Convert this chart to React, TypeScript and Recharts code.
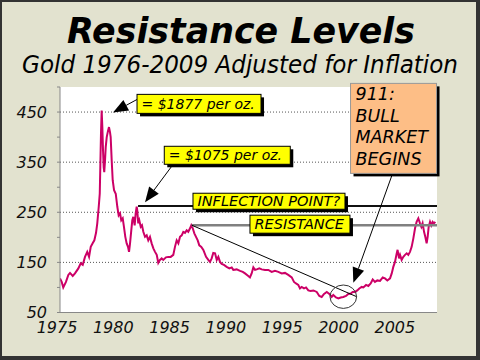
import React from 'react';
import { LineChart, Line, XAxis, YAxis, CartesianGrid, ReferenceLine, ReferenceDot } from 'recharts';

// ---- data (x is the chart's year axis) ----
const years = [
  1975.0, 1975.15, 1975.29, 1975.53, 1975.74, 1975.89, 1976.13, 1976.33, 1976.63, 1976.84,
  1977.02, 1977.22, 1977.42, 1977.58, 1977.73, 1977.9, 1978.05, 1978.2, 1978.31, 1978.44,
  1978.53, 1978.58, 1978.64, 1978.7, 1978.76, 1978.82, 1978.88, 1978.93, 1979.0, 1979.06,
  1979.15, 1979.24, 1979.35, 1979.44, 1979.5, 1979.59, 1979.68, 1979.8, 1979.95, 1980.09,
  1980.21, 1980.33, 1980.44, 1980.57, 1980.68, 1980.8, 1980.92, 1981.04, 1981.13, 1981.22,
  1981.33, 1981.42, 1981.51, 1981.63, 1981.72, 1981.81, 1981.86, 1981.95, 1982.04, 1982.17,
  1982.28, 1982.4, 1982.55, 1982.7, 1982.84, 1982.99, 1983.14, 1983.29, 1983.44, 1983.59,
  1983.73, 1983.88, 1984.03, 1984.17, 1984.41, 1984.62, 1984.83, 1985.06, 1985.21, 1985.36,
  1985.51, 1985.66, 1985.81, 1985.95, 1986.1, 1986.25, 1986.39, 1986.55, 1986.66, 1986.79,
  1986.93, 1987.08, 1987.23, 1987.37, 1987.55, 1987.73, 1987.97, 1988.17, 1988.32, 1988.47,
  1988.61, 1988.77, 1988.92, 1989.06, 1989.21, 1989.36, 1989.56, 1989.8, 1990.04, 1990.25,
  1990.39, 1990.69, 1990.99, 1991.23, 1991.43, 1991.72, 1991.87, 1992.02, 1992.17, 1992.32,
  1992.47, 1992.7, 1992.91, 1993.21, 1993.5, 1993.8, 1994.09, 1994.39, 1994.69, 1994.98,
  1995.27, 1995.58, 1995.78, 1995.96, 1996.16, 1996.31, 1996.46, 1996.67, 1996.85, 1997.05,
  1997.26, 1997.5, 1997.8, 1998.03, 1998.24, 1998.45, 1998.69, 1998.92, 1999.13, 1999.27,
  1999.51, 1999.72, 1999.93, 2000.16, 2000.4, 2000.6, 2000.82, 2000.99, 2001.2, 2001.4,
  2001.58, 2001.79, 2001.94, 2002.18, 2002.38, 2002.59, 2002.77, 2002.97, 2003.18, 2003.42,
  2003.66, 2003.86, 2004.07, 2004.31, 2004.46, 2004.6, 2004.75, 2004.9, 2004.98, 2005.11,
  2005.2, 2005.34, 2005.49, 2005.64, 2005.79, 2005.93, 2006.08, 2006.23, 2006.38, 2006.53,
  2006.67, 2006.82, 2006.97, 2007.09, 2007.2, 2007.33, 2007.44, 2007.56, 2007.65, 2007.74,
  2007.86, 2007.97, 2008.09, 2008.21, 2008.33,
];
const gold = [
  118, 111, 100, 111, 125, 129, 123, 128, 138, 148,
  145, 161, 171, 161, 181, 188, 194, 209, 228, 261,
  287, 340, 407, 453, 420, 374, 340, 330, 354, 380,
  400, 410, 420, 410, 400, 354, 314, 294, 287, 261,
  244, 248, 234, 238, 221, 201, 188, 181, 171, 188,
  214, 234, 241, 224, 248, 261, 254, 228, 234, 221,
  224, 211, 201, 204, 194, 201, 188, 178, 171, 165,
  149, 155, 158, 155, 160, 161, 161, 165, 181, 194,
  188, 201, 204, 211, 209, 214, 211, 218, 224, 218,
  208, 201, 194, 184, 181, 175, 161, 155, 151, 158,
  169, 168, 155, 161, 151, 147, 145, 141, 138, 140,
  135, 136, 133, 131, 128, 123, 120, 128, 140, 135,
  136, 138, 136, 135, 135, 131, 133, 131, 128, 129,
  125, 120, 111, 108, 105, 98, 101, 98, 100, 94,
  93, 94, 91, 83, 81, 87, 91, 87, 81, 85,
  80, 78, 80, 81, 83, 87, 88, 91, 91, 94,
  98, 101, 100, 105, 103, 108, 116, 111, 114, 113,
  120, 118, 114, 118, 128, 141, 151, 168, 175, 158,
  165, 155, 161, 165, 168, 165, 171, 181, 198, 218,
  231, 238, 228, 221, 228, 211, 201, 188, 201, 221,
  231, 224, 231, 228, 231,
];
const xTicks = [1975, 1980, 1985, 1990, 1995, 2000, 2005];
const yTicks = [50, 100, 150, 200, 250, 300, 350, 400, 450, 500];
const yLabelled = [50, 150, 250, 350, 450];
const gridValues = [150, 250, 350, 450];
const rightTicks = [0, 1, 2, 3, 4, 5, 6, 7, 8, 9, 10];
const X_START = 1975;
const X_END = 2008.48;

const inflectionLevel = 262.7;
const inflectionFrom = 1981.93;
const resistanceLevel = 224.3;
const resistanceFrom = 1986.7;
const trendFrom = { x: 1986.7, y: 224.3 };
const trendTo = { x: 2001.35, y: 81.5 };
const circleAt = { x: 2000.16, y: 81.5 };

const labels1877 = '= $1877 per oz.';
const labels1075 = '= $1075 per oz.';
const labelInflection = 'INFLECTION POINT?';
const labelResistance = 'RESISTANCE';
const bullLines = ['911:', 'BULL', 'MARKET', 'BEGINS'];

const arrow1877 = [{ x: 1981.84, y: 475.1 }, { x: 1979.71, y: 449.2 }];
const arrow1075 = [{ x: 1984.92, y: 341.8 }, { x: 1982.55, y: 270.1 }];
const arrowBull = [{ x: 2004.48, y: 323.9 }, { x: 2001.05, y: 109.4 }];

const chartData = years.map((t, i) => ({ t, v: gold[i] }));

const FONT = '"DejaVu Sans", Verdana, sans-serif';
const ITALIC: React.CSSProperties = { fontStyle: 'italic', fontFamily: FONT };

const ArrowShape = (props: any) => {
  const { x1, y1, x2, y2 } = props;
  const dx = x2 - x1;
  const dy = y2 - y1;
  const len = Math.hypot(dx, dy) || 1;
  const ux = dx / len;
  const uy = dy / len;
  const hl = 15;
  const hw = 6;
  const bx = x2 - ux * hl;
  const by = y2 - uy * hl;
  const pts = `${x2},${y2} ${bx - uy * hw},${by + ux * hw} ${bx + uy * hw},${by - ux * hw}`;
  return (
    <g>
      <line x1={x1} y1={y1} x2={bx} y2={by} stroke="#000" strokeWidth={1} />
      <polygon points={pts} fill="#000" />
    </g>
  );
};

const makeBox = (w: number, h: number, text: string, size: number) => (props: any) => {
  const { cx, cy } = props;
  return (
    <g>
      <rect x={cx + 3} y={cy + 3} width={w} height={h} fill="#000" />
      <rect x={cx} y={cy} width={w} height={h} fill="#FFFF00" stroke="#000" strokeWidth={1} />
      <text
        x={cx + 4.5}
        y={cy + h / 2 + size * 0.36}
        fontFamily={FONT}
        fontStyle="italic"
        style={ITALIC}
        fontSize={size}
        fill="#000"
      >
        {text}
      </text>
    </g>
  );
};

const BullBox = (props: any) => {
  const { cx, cy } = props;
  const w = 86;
  const h = 90;
  return (
    <g>
      <rect x={cx + 3} y={cy + 3} width={w} height={h} fill="#000" />
      <rect x={cx} y={cy} width={w} height={h} fill="#FDBE86" stroke="#999" strokeWidth={1} />
      {bullLines.map((l, i) => (
        <text
          key={l}
          x={cx + 5}
          y={cy + 17 + i * 21.5}
          fontFamily={FONT}
          fontStyle="italic"
          style={ITALIC}
          fontSize={17.5}
          fill="#000"
        >
          {l}
        </text>
      ))}
    </g>
  );
};

const Ellipse = (props: any) => (
  <ellipse cx={props.cx} cy={props.cy} rx={13.3} ry={11.7} fill="none" stroke="#333" strokeWidth={1} />
);

const XTick = (props: any) => {
  const { x, y, payload } = props;
  return (
    <text x={x - 3} y={y} dy="0.71em" textAnchor="middle" fontFamily={FONT} fontStyle="italic" style={ITALIC} fontSize={16} fill="#111">
      {payload.value}
    </text>
  );
};

const YTick = (props: any) => {
  const { x, y, payload } = props;
  if (!yLabelled.includes(payload.value)) return <g />;
  return (
    <text x={x} y={y} dy="0.36em" textAnchor="end" fontFamily={FONT} fontStyle="italic" style={ITALIC} fontSize={16} fill="#111">
      {payload.value}
    </text>
  );
};

export default function App() {
  return (
    <div
      style={{
        position: 'absolute',
        left: 0,
        top: 0,
        width: 480,
        height: 360,
        boxSizing: 'border-box',
        background: '#E2E2CF',
        borderStyle: 'solid',
        borderColor: '#333',
        borderWidth: '2px 4px 4px 2px',
      }}
    >
      <svg width={480} height={80} style={{ position: 'absolute', left: -2, top: -2 }}>
        <text
          x={241}
          y={43}
          textAnchor="middle"
          fontFamily={FONT}
          fontWeight="bold"
          fontStyle="italic"
          style={ITALIC}
          fontSize={35}
          textLength={348}
          lengthAdjust="spacingAndGlyphs"
          fill="#000"
        >
          Resistance Levels
        </text>
        <text
          x={240}
          y={73}
          textAnchor="middle"
          fontFamily={FONT}
          fontStyle="italic"
          style={ITALIC}
          fontSize={24}
          textLength={436}
          lengthAdjust="spacingAndGlyphs"
          fill="#000"
        >
          Gold 1976-2009 Adjusted for Inflation
        </text>
      </svg>
      <div style={{ position: 'absolute', left: -2, top: -2 }}>
        <LineChart width={480} height={360} data={chartData} margin={{ top: 87, right: 43, bottom: 0, left: 0 }}>
          <CartesianGrid
            fill="#FFFFFF"
            vertical={false}
            horizontalValues={gridValues}
            stroke="#555"
            strokeDasharray="1 2"
          />
          <XAxis
            dataKey="t"
            type="number"
            domain={[X_START, X_END]}
            ticks={xTicks}
            allowDataOverflow
            height={47.5}
            tickLine={false}
            tickSize={0}
            tickMargin={9}
            axisLine={{ stroke: '#888' }}
            tick={<XTick />}
            interval={0}
          />
          <XAxis
            xAxisId="top"
            orientation="top"
            type="number"
            domain={[X_START, X_END]}
            height={0}
            tick={false}
            tickLine={false}
            axisLine={{ stroke: '#888' }}
          />
          <YAxis
            type="number"
            domain={[50, 500]}
            ticks={yTicks}
            allowDataOverflow
            width={60}
            tickSize={3}
            tickMargin={10}
            tickLine={{ stroke: '#888' }}
            axisLine={{ stroke: '#888' }}
            tick={<YTick />}
            interval={0}
          />
          <YAxis
            yAxisId="r"
            orientation="right"
            mirror
            type="number"
            domain={[0, 10]}
            ticks={rightTicks}
            width={0}
            tickSize={3}
            tick={false}
            tickLine={{ stroke: '#888' }}
            axisLine={{ stroke: '#888' }}
            interval={0}
          />
          <Line
            type="linear"
            dataKey="v"
            stroke="#CC0066"
            strokeWidth={2}
            dot={false}
            isAnimationActive={false}
          />
          <ReferenceLine
            segment={[{ x: inflectionFrom, y: inflectionLevel }, { x: X_END, y: inflectionLevel }]}
            stroke="#111"
            strokeWidth={2}
            ifOverflow="visible"
          />
          <ReferenceLine
            segment={[{ x: resistanceFrom, y: resistanceLevel }, { x: X_END, y: resistanceLevel }]}
            stroke="#808080"
            strokeWidth={2.5}
            ifOverflow="visible"
          />
          <ReferenceLine segment={[trendFrom, trendTo]} stroke="#000" strokeWidth={1} ifOverflow="visible" />
          <ReferenceDot x={circleAt.x} y={circleAt.y} r={12} shape={Ellipse} ifOverflow="visible" />
          <ReferenceLine segment={arrow1877} shape={ArrowShape} ifOverflow="visible" />
          <ReferenceLine segment={arrow1075} shape={ArrowShape} ifOverflow="visible" />
          <ReferenceLine segment={arrowBull} shape={ArrowShape} ifOverflow="visible" />
          <ReferenceDot x={1981.84} y={485.3} r={1} shape={makeBox(124, 19, labels1877, 14)} ifOverflow="visible" />
          <ReferenceDot x={1984.26} y={381.7} r={1} shape={makeBox(126, 18, labels1075, 14)} ifOverflow="visible" />
          <ReferenceDot x={1986.81} y={288.0} r={1} shape={makeBox(152, 16, labelInflection, 14.5)} ifOverflow="visible" />
          <ReferenceDot x={1991.87} y={244.2} r={1} shape={makeBox(100, 18, labelResistance, 14.5)} ifOverflow="visible" />
          <ReferenceDot x={2000.8} y={507.2} r={1} shape={BullBox} ifOverflow="visible" />
        </LineChart>
      </div>
    </div>
  );
}
